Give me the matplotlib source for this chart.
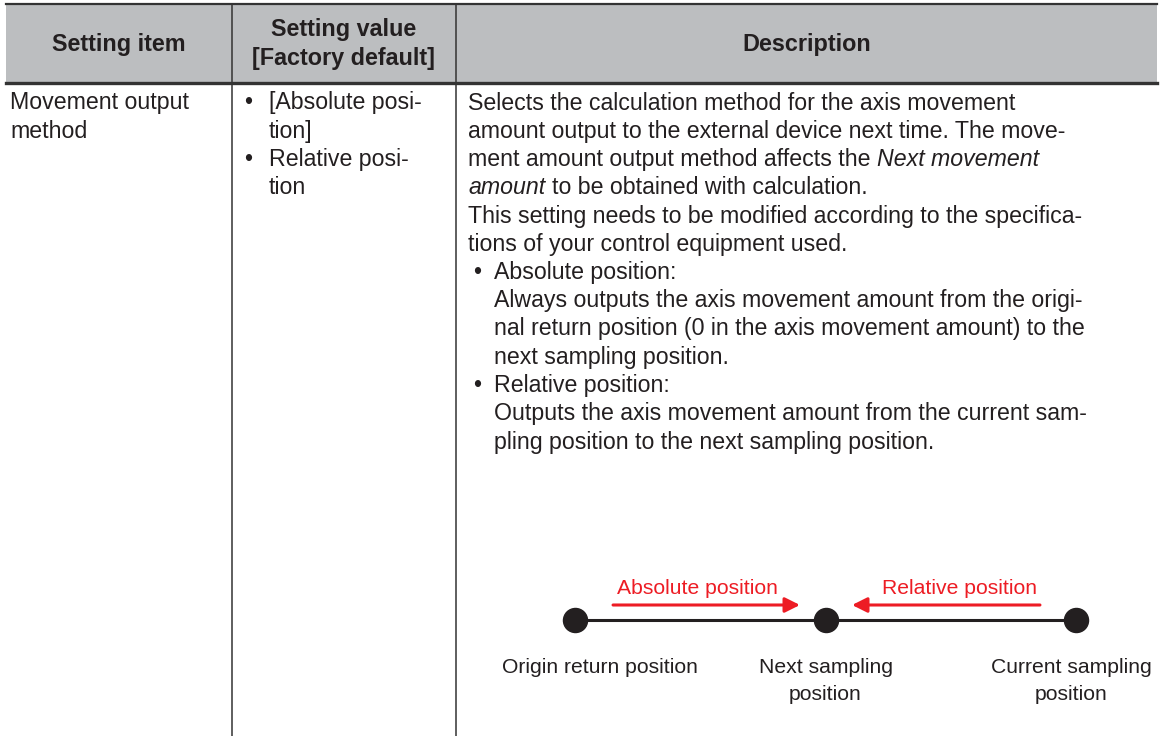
import matplotlib
matplotlib.use('Agg')
import matplotlib.pyplot as plt

plt.rcParams['font.family'] = ['Liberation Sans', 'DejaVu Sans']

W, H = 1167, 736
ink = '#231f20'
red = '#ed1c24'
head_bg = '#bcbec0'
fs = 16.7
fs_head = 16.8
fs_diag = 15.2

# table content
headers = ['Setting item', 'Setting value\n[Factory default]', 'Description']
col_edges = [6, 232, 456, 1157]

item_lines = ['Movement output', 'method']
value_lines = [('•', '[Absolute posi-'), ('', 'tion]'),
               ('•', 'Relative posi-'), ('', 'tion')]

# (bullet, indent, [(text, style), ...])
desc_lines = [
    ('', 0, [('Selects the calculation method for the axis movement', 'normal')]),
    ('', 0, [('amount output to the external device next time. The move-', 'normal')]),
    ('', 0, [('ment amount output method affects the', 'normal'), ('Next movement', 'italic')]),
    ('', 0, [('amount', 'italic'), ('to be obtained with calculation.', 'normal')]),
    ('', 0, [('This setting needs to be modified according to the specifica-', 'normal')]),
    ('', 0, [('tions of your control equipment used.', 'normal')]),
    ('•', 1, [('Absolute position:', 'normal')]),
    ('', 1, [('Always outputs the axis movement amount from the origi-', 'normal')]),
    ('', 1, [('nal return position (0 in the axis movement amount) to the', 'normal')]),
    ('', 1, [('next sampling position.', 'normal')]),
    ('•', 1, [('Relative position:', 'normal')]),
    ('', 1, [('Outputs the axis movement amount from the current sam-', 'normal')]),
    ('', 1, [('pling position to the next sampling position.', 'normal')]),
]

# diagram content
stop_pos = [0, 1, 2]
stop_labels = ['Origin return position', 'Next sampling\nposition', 'Current sampling\nposition']
stop_label_x = [0.1, 1.0, 1.98]
arrow_from = [0.152, 1.856]
arrow_to = [0.898, 1.106]
arrow_labels = ['Absolute position', 'Relative position']
arrow_label_x = [0.49, 1.533]

fig = plt.figure(figsize=(W / 100, H / 100), dpi=100)
ax = fig.add_axes([0, 0, 1, 1])
ax.set_xlim(0, W)
ax.set_ylim(H, 0)
ax.axis('off')

# header band and rules
ax.fill_between([col_edges[0], col_edges[-1]], 4, 83, color=head_bg, lw=0)
ax.plot([col_edges[0], col_edges[-1]], [4, 4], color='#333333', lw=1.6)
ax.plot([col_edges[0], col_edges[-1]], [83, 83], color='#333333', lw=2.4)
for x in col_edges[1:-1]:
    ax.plot([x, x], [4, H], color='#333333', lw=1.1)

for i, h in enumerate(headers):
    cx = (col_edges[i] + col_edges[i + 1]) / 2
    ax.text(cx, 44, h, ha='center', va='center', fontsize=fs_head, fontweight='bold',
            color=ink, linespacing=1.32)

y0, dy = 103, 28.25

for i, s in enumerate(item_lines):
    ax.text(10, y0 + i * dy, s, va='center', fontsize=fs, color=ink)

for i, (b, s) in enumerate(value_lines):
    if b:
        ax.text(244, y0 + i * dy, b, va='center', fontsize=fs, color=ink)
    ax.text(269, y0 + i * dy, s, va='center', fontsize=fs, color=ink)

fig.canvas.draw()
rend = fig.canvas.get_renderer()
space = fs * 100 / 72 * 0.278

for i, (b, ind, segs) in enumerate(desc_lines):
    y = y0 + i * dy
    x = 468 + ind * 26
    if b:
        ax.text(473, y, b, va='center', fontsize=fs, color=ink)
    for s, style in segs:
        t = ax.text(x, y, s, va='center', fontsize=fs, color=ink, style=style)
        bb = t.get_window_extent(renderer=rend)
        x = bb.x1 + space

# diagram
dax = fig.add_axes([480 / W, 1 - 720 / H, (W - 480) / W, 150 / H])
dax.set_xlim(-0.379, 2.363)
dax.set_ylim(720, 570)
dax.axis('off')

dax.plot([stop_pos[0], stop_pos[-1]], [620, 620], color=ink, lw=2.2, zorder=1)
dax.scatter(stop_pos, [620] * len(stop_pos), s=300, color=ink, zorder=2)
for x, lab in zip(stop_label_x, stop_labels):
    dax.text(x, 658, lab, ha='center', va='top', fontsize=fs_diag, color=ink,
             linespacing=1.55)
for a, b, lab, lx in zip(arrow_from, arrow_to, arrow_labels, arrow_label_x):
    dax.annotate('', xy=(b, 605), xytext=(a, 605),
                 arrowprops=dict(arrowstyle='-|>,head_length=0.9,head_width=0.45',
                                 color=red, lw=2.2, shrinkA=0, shrinkB=0))
    dax.text(lx, 589, lab, ha='center', va='center', fontsize=fs_diag, color=red)

fig.savefig('out.png', dpi=100)
